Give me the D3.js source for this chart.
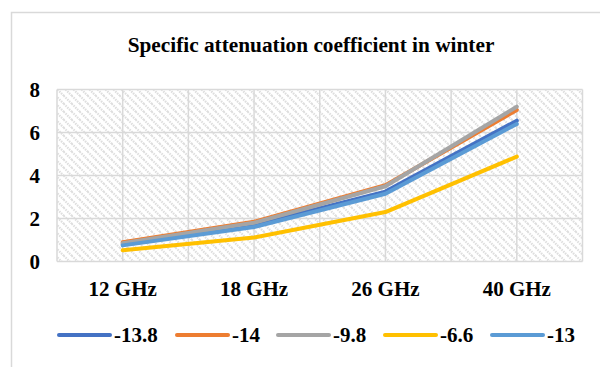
<!DOCTYPE html>
<html>
<head>
<meta charset="utf-8">
<script src="https://cdn.jsdelivr.net/npm/d3@7"></script>
<style>
  html, body { margin: 0; padding: 0; background: #fff; }
  svg { display: block; }
  text { font-family: "Liberation Serif", "Times New Roman", serif; font-weight: bold; fill: #000; }
</style>
</head>
<body>
<svg id="chart" width="600" height="367"></svg>
<script>
// Frequency bands on the x axis
const categories = ["12 GHz", "18 GHz", "26 GHz", "40 GHz"];
// Series names (temperature, °C) and their attenuation values per band
const seriesNames = ["-13.8", "-14", "-9.8", "-6.6", "-13"];
const s138 = [0.80, 1.70, 3.25, 6.55];
const s14  = [0.90, 1.85, 3.55, 7.05];
const s98  = [0.85, 1.80, 3.50, 7.20];
const s66  = [0.52, 1.12, 2.30, 4.88];
const s13  = [0.75, 1.60, 3.15, 6.40];
const yTicks = [0, 2, 4, 6, 8];
const titleText = "Specific attenuation coefficient in winter";

const seriesValues = [s138, s14, s98, s66, s13];
const colors = ["#4472C4", "#ED7D31", "#A5A5A5", "#FFC000", "#5B9BD5"];

const svg = d3.select("#chart");

// chart frame
svg.append("rect")
  .attr("x", 11.5).attr("y", 12.5)
  .attr("width", 640).attr("height", 400)
  .attr("fill", "#fff").attr("stroke", "#d9d9d9").attr("stroke-width", 1.5);

// wide downward-diagonal hatch for the plot area
const defs = svg.append("defs");
const pat = defs.append("pattern")
  .attr("id", "hatch").attr("patternUnits", "userSpaceOnUse")
  .attr("width", 8).attr("height", 8);
pat.append("rect").attr("width", 8).attr("height", 8).attr("fill", "#fff");
pat.append("path")
  .attr("d", "M-2,-2 L10,10 M-6,2 L2,10 M6,-2 L10,2")
  .attr("stroke", "#dedede").attr("stroke-width", 2.2)
  .attr("stroke-dasharray", "1.5,1");

const plot = { left: 57, right: 582.5, top: 89.5, bottom: 261.5 };

const x = d3.scaleBand().domain(categories).range([plot.left, plot.right]).padding(0);
const y = d3.scaleLinear().domain([0, 8]).range([plot.bottom, plot.top]);

svg.append("rect")
  .attr("x", plot.left).attr("y", plot.top)
  .attr("width", plot.right - plot.left).attr("height", plot.bottom - plot.top)
  .attr("fill", "url(#hatch)");

// horizontal gridlines
svg.append("g").selectAll("line").data(yTicks).join("line")
  .attr("x1", plot.left).attr("x2", plot.right)
  .attr("y1", d => y(d)).attr("y2", d => y(d))
  .attr("stroke", "#d9d9d9").attr("stroke-width", 1.5);

// vertical gridlines at band edges and band centres
const vGrid = [];
categories.forEach(c => { vGrid.push(x(c)); vGrid.push(x(c) + x.bandwidth() / 2); });
vGrid.push(plot.right);
svg.append("g").selectAll("line").data(vGrid).join("line")
  .attr("x1", d => d).attr("x2", d => d)
  .attr("y1", plot.top).attr("y2", plot.bottom)
  .attr("stroke", "#d9d9d9").attr("stroke-width", 1.5);

// y axis labels
const yAxis = d3.axisLeft(y).tickValues(yTicks).tickSize(0).tickPadding(0).tickFormat(d3.format("d"));
const gy = svg.append("g").attr("transform", `translate(${plot.left - 17},0)`).call(yAxis);
gy.select(".domain").remove();
gy.selectAll("text").attr("font-size", 21).attr("font-family", null).attr("dy", "0.33em");

// x axis labels
const xAxis = d3.axisBottom(x).tickSize(0).tickPadding(0);
const gx = svg.append("g").attr("transform", `translate(0,${plot.bottom + 20})`).call(xAxis);
gx.select(".domain").remove();
gx.selectAll("text").attr("font-size", 21).attr("font-family", null).attr("dy", "0.71em");

// series lines
const line = d3.line()
  .x((d, i) => x(categories[i]) + x.bandwidth() / 2)
  .y(d => y(d));
svg.append("g").selectAll("path").data(seriesValues).join("path")
  .attr("d", d => line(d))
  .attr("fill", "none")
  .attr("stroke", (d, i) => colors[i])
  .attr("stroke-width", 4)
  .attr("stroke-linejoin", "round")
  .attr("stroke-linecap", "round");

// title
svg.append("text")
  .attr("x", 311).attr("y", 52)
  .attr("text-anchor", "middle")
  .attr("font-size", 21.3)
  .text(titleText);

// legend
const legendX = [57, 175, 276, 383, 490];
const lg = svg.append("g").selectAll("g").data(seriesNames).join("g")
  .attr("transform", (d, i) => `translate(${legendX[i]},335)`);
lg.append("line")
  .attr("x1", 2).attr("x2", 53).attr("y1", 0).attr("y2", 0)
  .attr("stroke", (d, i) => colors[i]).attr("stroke-width", 4)
  .attr("stroke-linecap", "round");
lg.append("text")
  .attr("x", 57).attr("y", 0).attr("dy", "0.35em")
  .attr("font-size", 21)
  .text(d => d);
</script>
</body>
</html>
